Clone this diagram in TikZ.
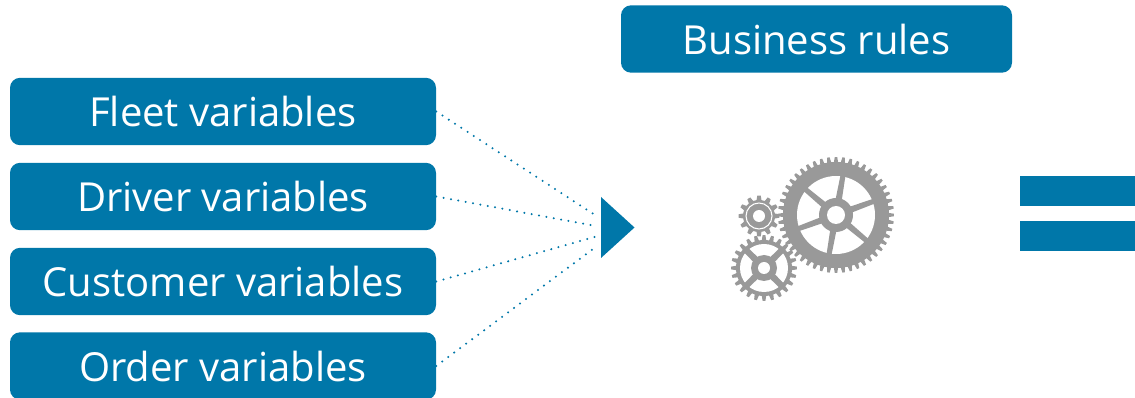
\documentclass[tikz,border=0pt]{standalone}
\usepackage{fontspec}
\setmainfont{Open Sans}
\definecolor{brandblue}{HTML}{0077A9}
\definecolor{geargray}{HTML}{999999}
\tikzset{
  varbox/.style={fill=brandblue,text=white,rounded corners=7.5pt,minimum width=319.5pt,minimum height=50.5pt,inner sep=0pt,text height=23pt,text depth=0pt,font=\fontsize{30}{36}\selectfont},
  bar/.style={fill=brandblue,minimum width=86.25pt,minimum height=22.5pt,inner sep=0pt},
  dotline/.style={brandblue,line width=1.7pt,line cap=round,dash pattern=on 0pt off 5.6pt}
}
% center x, center y, teeth, root radius, tip radius
\newcommand{\gearbody}[5]{%
  \pgfmathsetmacro{\gs}{360/#3}%
  \begin{scope}[shift={(#1,#2)}]
  \fill[geargray] (0:#4)
    \foreach \i [evaluate=\i as \ga using \i*\gs] in {1,...,#3} {
      -- ({\ga-.30*\gs}:#4) -- ({\ga-.16*\gs}:#5) -- ({\ga+.16*\gs}:#5) -- ({\ga+.30*\gs}:#4) -- ({\ga+.5*\gs}:#4)
    } -- cycle;
  \end{scope}%
}
\begin{document}
\begin{tikzpicture}[x=.75pt,y=.75pt]
\useasboundingbox (0,0) rectangle (1135,-398);
% boxes
\node[varbox] (fleet) at (223,-111.5) {Fleet variables};
\node[varbox] (driver) at (223,-196.5) {Driver variables};
\node[varbox] (customer) at (223,-281.5) {Customer variables};
\begin{scope}
\clip (0,0) rectangle (1135,-398);
\node[varbox] (order) at (223,-366) {Order variables};
\end{scope}
\node[varbox,minimum width=293.25pt] (rules) at (816.5,-39) {Business rules};
% triangle
\coordinate (ta) at (601,-197);
\coordinate (tb) at (634.5,-227.5);
\coordinate (tc) at (601,-258);
\fill[brandblue] (ta) -- (tb) -- (tc) -- cycle;
\coordinate (e1) at (598,-217);
\coordinate (e2) at (596,-226);
\coordinate (e3) at (598,-236);
\coordinate (e4) at (597,-246);
\draw[dotline] (fleet.east) -- (e1);
\draw[dotline] (driver.east) -- (e2);
\draw[dotline] (customer.east) -- (e3);
\draw[dotline] (order.east) -- (e4);
% big gear
\gearbody{836}{-215}{48}{53}{58}
\begin{scope}[shift={(836,-215)}]
\fill[white] (0,0) circle (39);
\fill[geargray] (0,0) circle (17);
\foreach \a in {80,20,-40,-100,-160,140}
  \fill[geargray,rotate=\a] (0,-3.5) -- (40,-2.5) -- (40,2.5) -- (0,3.5) -- cycle;
\fill[white] (0,0) circle (9);
\end{scope}
% small gear
\gearbody{759}{-216}{12}{16}{20.5}
\begin{scope}[shift={(759,-216)}]
\draw[white,line width=.8pt] (0,0) circle (13);
\fill[white] (0,0) circle (6);
\end{scope}
% lower gear
\gearbody{764}{-268}{24}{28}{33}
\begin{scope}[shift={(764,-268)}]
\fill[white] (0,0) circle (24);
\fill[geargray] (0,0) circle (13);
\foreach \a in {45,135,225,315}
  \fill[geargray,rotate=\a] (0,-3.5) -- (25,-3) -- (25,3) -- (0,3.5) -- cycle;
\fill[white] (0,0) circle (6);
\end{scope}
% equals
\node[bar,anchor=north west] (bartop) at (1020,-176) {};
\node[bar,anchor=north west] (barbot) at (1020,-221) {};
\end{tikzpicture}
\end{document}
